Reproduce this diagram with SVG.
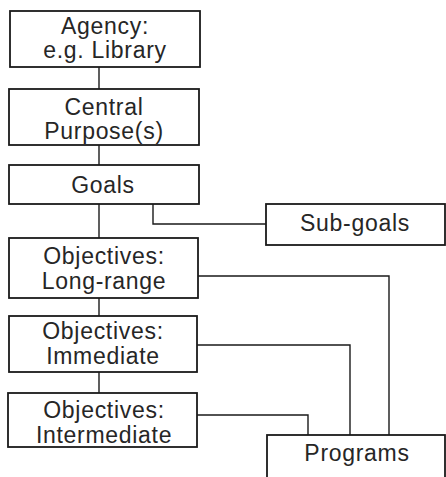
<svg xmlns="http://www.w3.org/2000/svg" width="446" height="477" viewBox="0 0 446 477">
<style>
.box{fill:#fff;stroke:#1a1a1a;stroke-width:1.8}
.lbl{font-family:"Liberation Sans",Arial,sans-serif;font-size:23px;letter-spacing:0.7px;fill:#262626;text-anchor:middle}
.conn{fill:none;stroke:#1a1a1a;stroke-width:1.4}
</style>
<rect width="446" height="477" fill="#fff"/>
<g id="connectors">
<path class="conn" d="M99,67V89"/>
<path class="conn" d="M99,145V165"/>
<path class="conn" d="M99,204V238"/>
<path class="conn" d="M99,298V316"/>
<path class="conn" d="M99,372V393"/>
<path class="conn" d="M153,204V224H266"/>
<path class="conn" d="M198,276H389V435"/>
<path class="conn" d="M197,345H350V435"/>
<path class="conn" d="M197,415H308V435"/>
</g>
<g id="agency">
<rect class="box" x="10" y="11" width="190" height="56"/>
<text class="lbl" x="105" y="34">Agency:</text>
<text class="lbl" x="105" y="58">e.g. Library</text>
</g>
<g id="central">
<rect class="box" x="9" y="89" width="190" height="56"/>
<text class="lbl" x="104" y="115">Central</text>
<text class="lbl" x="104" y="139">Purpose(s)</text>
</g>
<g id="goals">
<rect class="box" x="9" y="165" width="190" height="39"/>
<text class="lbl" x="103" y="193">Goals</text>
</g>
<g id="subgoals">
<rect class="box" x="266" y="204" width="179" height="41"/>
<text class="lbl" x="355" y="231">Sub-goals</text>
</g>
<g id="longrange">
<rect class="box" x="9" y="238" width="189" height="60"/>
<text class="lbl" x="104" y="264">Objectives:</text>
<text class="lbl" x="104" y="289">Long-range</text>
</g>
<g id="immediate">
<rect class="box" x="9" y="316" width="188" height="56"/>
<text class="lbl" x="103" y="339">Objectives:</text>
<text class="lbl" x="103" y="364">Immediate</text>
</g>
<g id="intermediate">
<rect class="box" x="8" y="393" width="189" height="54"/>
<text class="lbl" x="104" y="418">Objectives:</text>
<text class="lbl" x="104" y="443">Intermediate</text>
</g>
<g id="programs">
<rect class="box" x="267" y="435" width="178" height="50"/>
<text class="lbl" x="357" y="461">Programs</text>
</g>
</svg>
